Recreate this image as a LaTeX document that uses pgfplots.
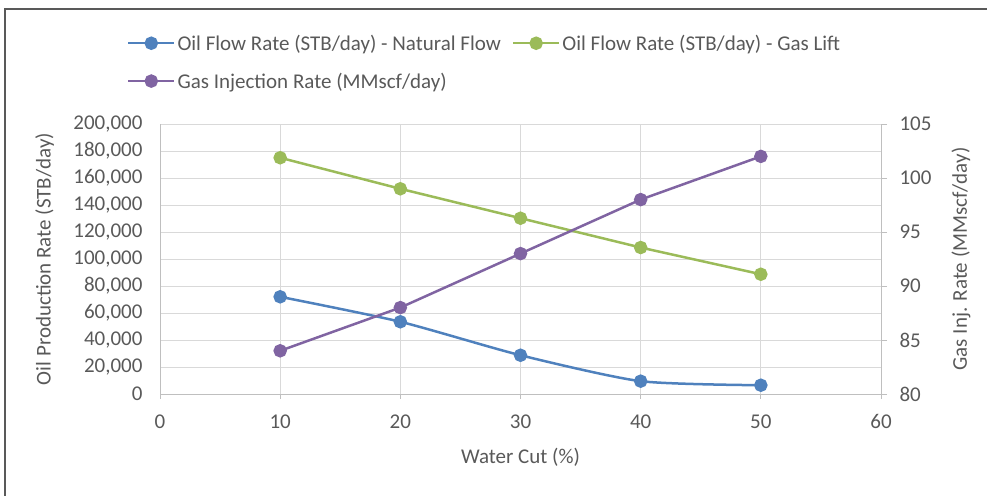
\documentclass[border=0pt]{standalone}
\usepackage{fontspec}
\setmainfont{Carlito}
\usepackage{pgfplots}
\pgfplotsset{compat=1.18}
\definecolor{cblue}{HTML}{4F81BD}
\definecolor{cgreen}{HTML}{9BBB59}
\definecolor{cpurple}{HTML}{8064A2}
\definecolor{ctext}{HTML}{595959}
\definecolor{cgrid}{HTML}{D9D9D9}
\definecolor{caxis}{HTML}{BFBFBF}
\newcommand{\fs}{\fontsize{21bp}{25bp}\selectfont}
\pgfplotsset{
  base/.style={
    at={(160bp,102bp)}, anchor=south west, scale only axis,
    width=721bp, height=270bp,
    xmin=0, xmax=60,
    font=\fs, every tick label/.append style={font=\fs, text=ctext},
    label style={font=\fs, text=ctext},
    /pgf/number format/.cd, fixed, 1000 sep={,}, assume math mode=true,
  },
  ser/.style={line width=2.5bp, mark=*, mark size=5.5bp, mark options={solid}},
}
\begin{document}
\begin{tikzpicture}[x=1bp,y=1bp]
\path[use as bounding box] (0,0) rectangle (987,496);
\draw[line width=1.5bp, ctext] (5,0) -- (5,487) -- (987,487);
\begin{axis}[base,
  ymin=0, ymax=200000, ytick={0,20000,...,200000},
  xtick={0,10,...,60}, scaled y ticks=false,
  grid=major, grid style={cgrid, line width=0.8bp},
  axis x line*=bottom, axis y line*=left,
  axis line style={caxis, line width=0.8bp, -},
  ytick style={draw=none}, xtick style={caxis, line width=0.8bp},
  tick align=outside, major tick length=5bp,
  xticklabel style={yshift=-12bp},
  yticklabel style={xshift=-9bp},
  xlabel={Water Cut (\%)},
  xlabel style={at={(axis description cs:0.5,-0.235)}, anchor=center},
  ylabel={Oil Production Rate (STB/day)},
  ylabel style={at={(axis description cs:-0.16,0.5)}, anchor=center},
]
\addplot[ser, cblue, smooth, tension=0.4] coordinates {(10,72000) (20,53500) (30,28700) (40,9500) (50,6500)};
\addplot[ser, cgreen] coordinates {(10,175000) (20,152000) (30,130200) (40,108500) (50,88700)};
\end{axis}
\begin{axis}[base,
  ymin=80, ymax=105, ytick={80,85,...,105},
  axis x line=none, axis y line*=right,
  axis line style={caxis, line width=0.8bp, -},
  ytick style={caxis, line width=0.8bp},
  tick align=outside, major tick length=6bp,
  yticklabel style={xshift=9bp},
  ylabel={Gas Inj. Rate (MMscf/day)},
  ylabel style={at={(axis description cs:1.111,0.5)}, anchor=center},
  legend columns=2, legend cell align=left,
  legend style={draw=none, fill=none, inner sep=0pt, font=\fs, text=ctext,
    at={(-0.046,1.229)}, anchor=west,
    /tikz/every even column/.append style={column sep=9bp},
    row sep=17bp},
  legend image code/.code={\draw[mark repeat=2,mark phase=2] plot coordinates {(0bp,0bp)(23bp,0bp)(46bp,0bp)};},
]
\addlegendimage{ser, cblue}
\addlegendentry{Oil Flow Rate (STB/day) - Natural Flow}
\addlegendimage{ser, cgreen}
\addlegendentry{Oil Flow Rate (STB/day) - Gas Lift}
\addplot[ser, cpurple] coordinates {(10,84) (20,88) (30,93) (40,98) (50,102)};
\addlegendentry{Gas Injection Rate (MMscf/day)}
\end{axis}
\end{tikzpicture}
\end{document}
